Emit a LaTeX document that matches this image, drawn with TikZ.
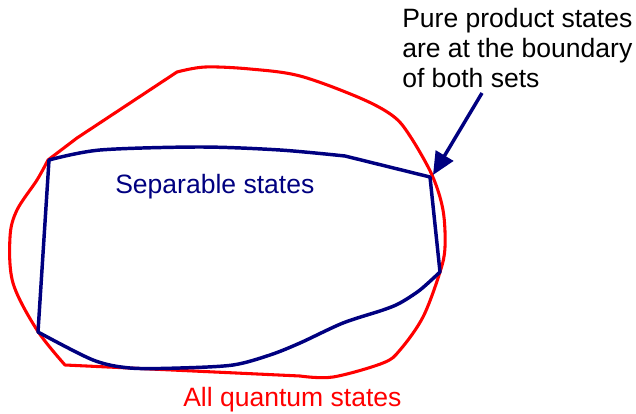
\documentclass[tikz,border=0pt]{standalone}
\usepackage{fontspec}
\setmainfont{Liberation Sans}
\usetikzlibrary{arrows.meta}
\definecolor{navyb}{HTML}{000080}
\definecolor{redq}{HTML}{FF0000}
\tikzset{
  redline/.style={draw=redq, line width=2.3pt, line join=round, line cap=round},
  blueline/.style={draw=navyb, line width=2.6pt, line join=round, line cap=round},
  arrowline/.style={draw=navyb, line width=2.6pt, -{Triangle[length=17pt,width=15pt]}},
  lbl/.style={inner sep=0pt, font=\fontsize{19.9}{22.5}\selectfont}
}
\begin{document}
\begin{tikzpicture}[x=0.75pt, y=-0.75pt]
\useasboundingbox (0,0) rectangle (636,414);
% all quantum states (red)
\draw[redline] plot[smooth, tension=0.55] coordinates {(177,72) (205,67) (250,69) (300,76) (360,98) (393,116) (410,136) (432,175) (443,210) (445,247) (440,272) (423,317) (400,350) (383,363) (333,377) (300,376)}
  -- (65,365)
  -- plot[smooth, tension=0.55] coordinates {(65,365) (37,330) (13,283) (10,237) (17,210) (37,180) (48,160)}
  -- (77,138) -- (177,72);
% separable states (blue)
\draw[blueline] plot[smooth, tension=0.5] coordinates {(49,160) (100,150) (200,147) (280,150) (345,156)}
  -- (430,177) -- (440,272)
  -- plot[smooth, tension=0.5] coordinates {(440,272) (420,290) (400,303) (383,310) (343,323) (300,343) (270,355) (233,365) (180,368) (130,368) (93,360) (38,332)}
  -- cycle;
% labels
\node[lbl, text=navyb, anchor=base west] (sep) at (115,193) {Separable states};
\node[lbl, text=redq, anchor=base west] (all) at (183,406) {All quantum states};
\node[lbl, text=black, anchor=north west, align=left] (pure) at (402,8) {Pure product states\\are at the boundary\\of both sets};
% arrow
\coordinate (tail) at (482,93);
\coordinate (tip) at (433,175);
\draw[arrowline] (tail) -- (tip);
\end{tikzpicture}
\end{document}
